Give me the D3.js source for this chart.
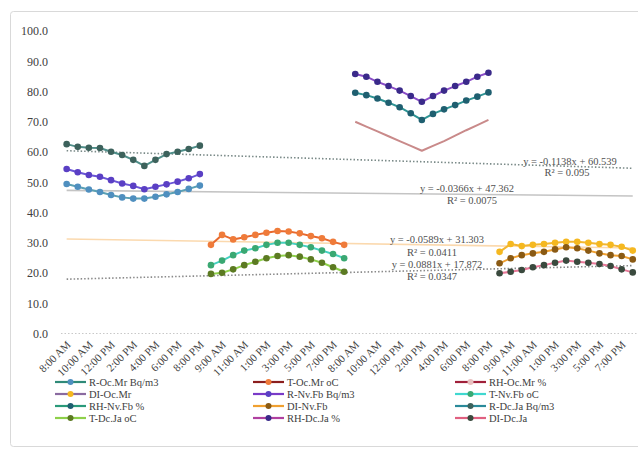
<!DOCTYPE html>
<html><head><meta charset="utf-8">
<script src="https://cdn.jsdelivr.net/npm/d3@7"></script>
<style>body{margin:0;background:#fff}svg{display:block}svg text{font-family:"Liberation Serif","Times New Roman",serif}</style>
</head><body><svg id="c" width="638" height="452"></svg>
<script>
// ---- data ----
const dayTimes = ["8:00 AM","9:00 AM","10:00 AM","11:00 AM","12:00 PM","1:00 PM","2:00 PM","3:00 PM","4:00 PM","5:00 PM","6:00 PM","7:00 PM","8:00 PM"];
const categories = [].concat(dayTimes, dayTimes, dayTimes, dayTimes);
const yTicks = [0,10,20,30,40,50,60,70,80,90,100];

const rOcMr = [49.4,48.5,47.6,46.8,45.8,45.0,44.6,44.6,45.2,46.0,46.8,47.8,48.9];
const rNvFb = [54.4,53.3,52.4,51.8,50.7,49.6,48.8,47.7,48.5,49.3,50.2,51.3,52.7];
const rDcJa = [62.6,61.7,61.4,61.3,60.1,59.0,57.4,55.4,57.4,59.3,60.1,61.0,62.1];
const tOcMr = [29.3,32.6,31.1,31.8,32.6,33.3,33.9,33.7,33.1,32.2,31.5,30.3,29.3];
const tNvFb = [22.6,24.1,25.9,27.4,28.2,29.3,30.0,30.0,29.3,28.5,27.4,26.3,24.9];
const tDcJa = [19.7,20.1,21.2,22.6,23.7,24.9,25.6,25.9,25.4,24.5,23.4,21.9,20.4];
const rhOcMr = [70.0,68.4,66.8,65.2,63.6,62.0,60.4,62.0,63.6,65.4,67.2,68.9,70.6];
const rhNvFb = [79.6,78.8,77.7,76.3,74.8,72.8,70.6,72.6,74.1,75.5,77.0,78.3,79.7];
const rhDcJa = [85.8,84.9,83.2,81.8,80.3,78.5,76.6,78.5,80.3,81.8,83.2,84.9,86.2];
const diOcMr = [27.0,29.6,28.9,29.3,29.6,30.0,30.3,30.3,30.0,29.6,29.3,28.7,27.4];
const diNvFb = [23.2,24.9,25.9,26.5,27.0,27.8,28.5,28.2,27.4,26.5,25.9,25.6,24.5];
const diDcJa = [19.9,20.4,21.0,21.9,22.6,23.4,24.1,23.7,23.4,23.0,22.3,21.2,20.2];

const seriesNames = ["R-Oc.Mr Bq/m3","T-Oc.Mr oC","RH-Oc.Mr %","DI-Oc.Mr","R-Nv.Fb Bq/m3","T-Nv.Fb oC","RH-Nv.Fb %","DI-Nv.Fb","R-Dc.Ja Bq/m3","T-Dc.Ja oC","RH-Dc.Ja %","DI-Dc.Ja"];
const seriesValues = [rOcMr,tOcMr,rhOcMr,diOcMr,rNvFb,tNvFb,rhNvFb,diNvFb,rDcJa,tDcJa,rhDcJa,diDcJa];
const seriesStart = [0,13,26,39,0,13,26,39,0,13,26,39];

const trendSlope = [-0.1138,-0.0366,-0.0589,0.0881];
const trendIntercept = [60.539,47.362,31.303,17.872];
const trendR2 = ["0.095","0.0075","0.0411","0.0347"];

// ---- styles ----
const lineColors = ["#5aa0b4","#e8692e","#c98a8a","#f2b630","#6a55d6","#45d0c0","#2e9494","#f0a030","#4f8f8a","#8ed04a","#8a4cc8","#e87898"];
const markerColors = ["#4f8fbf","#ef7b3a","#e9c0c0","#f5b820","#5a3fc4","#3aa872","#1f5f70","#8a5a14","#3d625c","#5c7a22","#3a2a8a","#3a4a3e"];
const legendLine = ["#2f8a78","#8b1e1e","#a0203a","#8a6aa0","#7a3ac8","#40d8d0","#2a9a7a","#f0a030","#2a8a9a","#8ed04a","#b040a0","#e06080"];
const trendStyle = [
  {c:"#7a8a88",d:"1.5,2",w:1.6},
  {c:"#c4c4c4",d:null,w:1.6},
  {c:"#fbd9ae",d:null,w:1.6},
  {c:"#8a8a8a",d:"1.5,2",w:1.6}
];
const trendLabelPos = [[570,165,567,176],[467,192,472,204],[437,243,432,256],[437,268,432,280]];

const svg = d3.select("#c");
svg.append("rect").attr("x",10.5).attr("y",11.5).attr("width",640).attr("height",435)
  .attr("fill","#fff").attr("stroke","#d9d9d9").attr("rx",3);

const x = d3.scaleBand().domain(d3.range(categories.length)).range([61.1,638.3]);
const cx = i => x(i) + x.bandwidth()/2;
const y = d3.scaleLinear().domain([0,100]).range([333.5,31]);

// y axis
const ya = svg.append("g").attr("transform","translate(51,0)")
  .call(d3.axisLeft(y).tickValues(yTicks).tickFormat(d3.format(".1f")).tickSize(0));
ya.attr("font-family",null);
ya.select(".domain").remove();
ya.selectAll("text").attr("fill","#404040").style("font-size","12px");

// baseline
svg.append("line").attr("x1",61).attr("x2",638).attr("y1",y(0)).attr("y2",y(0))
  .attr("stroke","#c8c8c8").attr("stroke-dasharray","1.5,2");

// x axis
const xa = svg.append("g").attr("transform",`translate(0,${y(0)})`)
  .call(d3.axisBottom(x).tickValues(d3.range(0,categories.length,2)).tickFormat(i=>categories[i]).tickSize(0));
xa.attr("font-family",null);
xa.select(".domain").remove();
xa.selectAll("text").attr("fill","#404040").style("font-size","11px")
  .attr("text-anchor","end").attr("dy","0.35em")
  .attr("transform","translate(2,9) rotate(-45)")
  .attr("y",0).attr("x",0);

// trendlines
trendSlope.forEach((m,k)=>{
  const b = trendIntercept[k];
  const pts = [1,categories.length].map(n=>[cx(n-1), y(m*n+b)]);
  const s = trendStyle[k];
  const l = svg.append("line").attr("x1",pts[0][0]).attr("y1",pts[0][1]).attr("x2",pts[1][0]).attr("y2",pts[1][1])
    .attr("stroke",s.c).attr("stroke-width",s.w);
  if(s.d) l.attr("stroke-dasharray",s.d);
});

// series
const line = d3.line().x(d=>cx(d.i)).y(d=>y(d.v));
seriesValues.forEach((vals,k)=>{
  const pts = vals.map((v,j)=>({i:seriesStart[k]+j,v}));
  svg.append("path").datum(pts).attr("d",line).attr("fill","none")
    .attr("stroke",lineColors[k]).attr("stroke-width",2).attr("stroke-linejoin","round");
  if(k!==2){
    svg.append("g").selectAll("circle").data(pts).join("circle")
      .attr("cx",d=>cx(d.i)).attr("cy",d=>y(d.v)).attr("r",3.3)
      .attr("fill",markerColors[k]);
  }
});

// trendline labels
trendSlope.forEach((m,k)=>{
  const p = trendLabelPos[k];
  const eq = "y = " + (m<0?"-":"") + Math.abs(m) + "x + " + trendIntercept[k];
  svg.append("text").attr("x",p[0]).attr("y",p[1]).attr("text-anchor","middle")
    .style("font-size","10.5px").attr("fill","#505050").text(eq);
  svg.append("text").attr("x",p[2]).attr("y",p[3]).attr("text-anchor","middle")
    .style("font-size","10.5px").attr("fill","#505050").text("R² = "+trendR2[k]);
});

// legend
const colX = [55,253,455], rowY = [382,394,406,418];
seriesNames.forEach((name,k)=>{
  const cxl = colX[k%3], ryl = rowY[Math.floor(k/3)];
  const g = svg.append("g");
  g.append("line").attr("x1",cxl).attr("x2",cxl+31).attr("y1",ryl).attr("y2",ryl)
    .attr("stroke",legendLine[k]).attr("stroke-width",2.2);
  g.append("circle").attr("cx",cxl+15.5).attr("cy",ryl).attr("r",3).attr("fill",markerColors[k]);
  g.append("text").attr("x",cxl+34).attr("y",ryl).attr("dy","0.35em")
    .style("font-size","10.5px").attr("fill","#404040").text(name);
});
</script></body></html>
